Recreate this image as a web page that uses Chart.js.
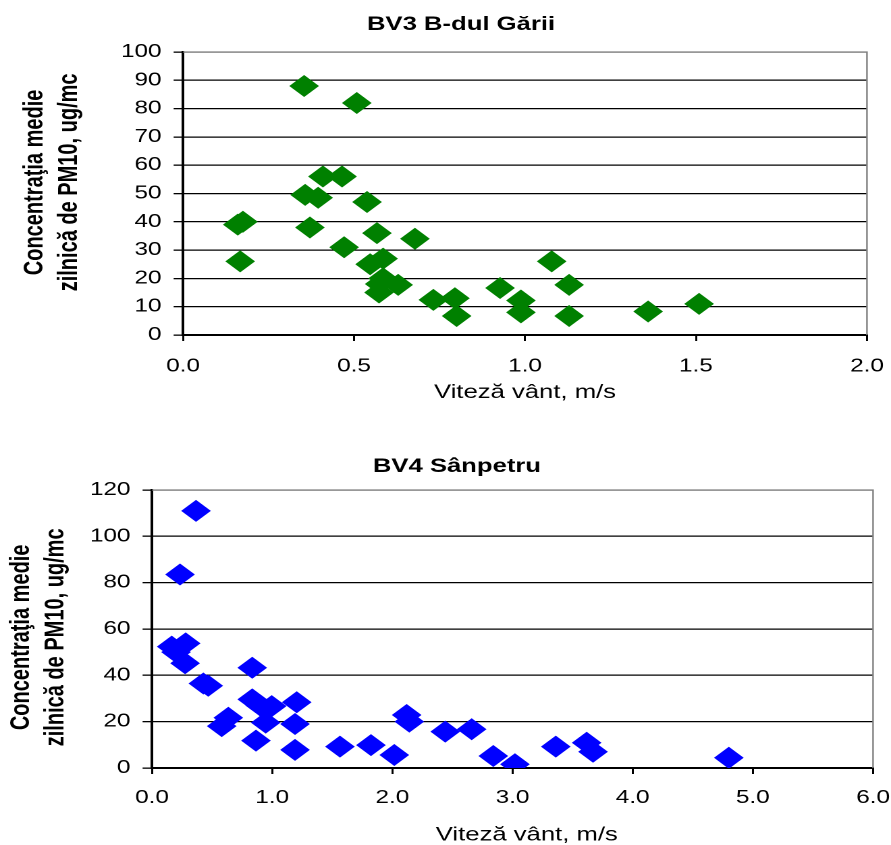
<!DOCTYPE html>
<html>
<head>
<meta charset="utf-8">
<script src="https://cdn.jsdelivr.net/npm/chart.js@4.4.1/dist/chart.umd.min.js"></script>
<style>
html, body { margin: 0; padding: 0; width: 891px; height: 845px; overflow: hidden; background: #fff; }
.wrap { position: absolute; left: 0; transform-origin: 0 0; transform: scaleX(1.35); }
#w1 { top: 0; width: 683px; height: 420px; }
#w2 { top: 420px; width: 677px; height: 440px; }
</style>
</head>
<body>
<div class="wrap" id="w1"><canvas id="bv3"></canvas></div>
<div class="wrap" id="w2"><canvas id="bv4"></canvas></div>
<script>
// BV3 B-dul Garii: wind speed (m/s) vs daily PM10 (ug/mc)
const bv3Wind = [0.354, 0.508, 0.409, 0.465, 0.357, 0.395, 0.538, 0.16, 0.175, 0.371, 0.567, 0.678, 0.471, 0.167,
  0.585, 0.547, 0.585, 0.575, 0.629, 0.573, 0.732, 0.795, 0.80, 0.927, 0.988, 0.988, 1.078, 1.129, 1.129, 1.36, 1.509];
const bv3Pm10 = [88, 82, 56, 56, 49.5, 48.5, 47, 39, 40, 38, 36, 34, 31, 26,
  27, 25, 20, 18, 17.7, 15, 12.4, 13, 6.7, 16.6, 12.2, 8, 26, 17.7, 6.7, 8.3, 11];
const bv3XLabels = ['0.0', '0.5', '1.0', '1.5', '2.0'];
const bv3YLabels = ['0', '10', '20', '30', '40', '50', '60', '70', '80', '90', '100'];

// BV4 Sanpetru
const bv4Wind = [0.366, 0.233, 0.164, 0.2, 0.28, 0.275, 0.427, 0.468, 0.834, 0.834, 0.9, 0.996, 0.946, 0.58, 0.635,
  0.865, 1.204, 1.19, 1.19, 1.564, 1.822, 2.016, 2.119, 2.141, 2.44, 2.66, 2.84, 3.02, 3.36, 3.617, 3.67, 4.80];
const bv4Pm10 = [111, 83.5, 52.4, 50, 53.8, 45.2, 36.5, 35.5, 43.3, 29.6, 27, 26.7, 19.6, 18.1, 21.7,
  11.8, 28.4, 19, 7.8, 9.2, 9.9, 5.6, 22.9, 20, 15.7, 16.7, 5.2, 1.6, 9.2, 10.9, 7.0, 4.4];
const bv4XLabels = ['0.0', '1.0', '2.0', '3.0', '4.0', '5.0', '6.0'];
const bv4YLabels = ['0', '20', '40', '60', '80', '100', '120'];

const FONT = "'Liberation Sans', Arial, sans-serif";
const yTitle = ['Concentraţia medie', 'zilnică de PM10, ug/mc'];
const xTitle = 'Viteză vânt, m/s';

const frame = {
  id: 'frame',
  beforeDatasetsDraw(chart) {
    const {ctx, chartArea: a} = chart;
    ctx.save();
    ctx.strokeStyle = '#808080';
    ctx.lineWidth = 1.2;
    ctx.beginPath();
    ctx.moveTo(a.left, a.top);
    ctx.lineTo(a.right, a.top);
    ctx.lineTo(a.right, a.bottom);
    ctx.stroke();
    ctx.restore();
  }
};

function makeChart(id, o) {
  const pts = o.x.map((x, i) => ({x: x, y: o.y[i]}));
  return new Chart(id, {
    type: 'scatter',
    data: {
      datasets: [{
        data: pts,
        pointStyle: 'rectRot',
        pointRadius: 11,
        pointHoverRadius: 11,
        pointBackgroundColor: o.color,
        pointBorderColor: o.color,
        pointBorderWidth: 0,
      }],
    },
    options: {
      responsive: true,
      maintainAspectRatio: false,
      devicePixelRatio: 2,
      animation: false,
      events: [],
      layout: { padding: 0 },
      plugins: {
        legend: { display: false },
        tooltip: { enabled: false },
        title: {
          display: true,
          text: o.title,
          color: '#000',
          font: { family: FONT, size: 19, weight: 'bold', lineHeight: 1.2 },
          padding: { top: o.titleTop, bottom: o.titleBottom },
        },
      },
      scales: {
        x: {
          type: 'linear',
          min: 0,
          max: o.xMax,
          afterFit: s => { s.height = o.xHeight; s.paddingRight = o.padRight; },
          afterBuildTicks: s => { s.ticks = o.xLabels.map((t, i) => ({value: i * o.xStep})); },
          ticks: {
            callback: (v, i) => o.xLabels[i],
            color: '#000',
            font: { family: FONT, size: 18 },
            padding: o.xTickPad,
            maxRotation: 0,
            autoSkip: false,
          },
          grid: { drawOnChartArea: false, drawTicks: true, tickLength: 6, color: '#000', lineWidth: 1.5 },
          border: { display: true, color: '#000', width: 2 },
          title: {
            display: true,
            text: o.xTitleText,
            color: '#000',
            font: { family: FONT, size: 19, lineHeight: 1.2 },
            padding: { top: 0, bottom: o.xTitlePad },
          },
        },
        y: {
          type: 'linear',
          min: 0,
          max: o.yMax,
          afterFit: s => { s.width = o.yWidth; },
          afterBuildTicks: s => { s.ticks = o.yLabels.map((t, i) => ({value: i * o.yStep})); },
          ticks: {
            callback: (v, i) => o.yLabels[i],
            color: '#000',
            font: { family: FONT, size: 18 },
            padding: 9,
          },
          grid: {
            color: c => (c.tick && c.tick.value === o.yMax) ? '#808080' : '#000',
            tickColor: '#000',
            lineWidth: 1.3,
            tickLength: 7,
          },
          border: { display: true, color: '#000', width: 2 },
          title: {
            display: true,
            text: o.yTitleText,
            color: '#000',
            font: { family: FONT, size: 20, weight: 'bold', lineHeight: 1.28 },
            padding: { top: o.yTitlePad, bottom: 0 },
          },
        },
      },
    },
    plugins: [frame],
  });
}

// the source titles sit a little off the plot centre; spaces nudge them the same way
makeChart('bv3', {
  title: 'BV3 B-dul Gării', x: bv3Wind, y: bv3Pm10, color: '#008000',
  xMax: 2, xStep: 0.5, xLabels: bv3XLabels, yMax: 100, yStep: 10, yLabels: bv3YLabels,
  titleTop: 13.6, titleBottom: 15.6, xHeight: 85, padRight: 40.8, xTickPad: 14.9, xTitlePad: 15.6,
  yWidth: 135.6, yTitlePad: 13,
  xTitleText: xTitle,
  yTitleText: yTitle.map(t => '    ' + t),
});

makeChart('bv4', {
  title: 'BV4 Sânpetru', x: bv4Wind, y: bv4Pm10, color: '#0000FF',
  xMax: 6, xStep: 1, xLabels: bv4XLabels, yMax: 120, yStep: 20, yLabels: bv4YLabels,
  titleTop: 35.6, titleBottom: 11.6, xHeight: 92, padRight: 30.3, xTickPad: 13.2, xTitlePad: 13.1,
  yWidth: 112.6, yTitlePad: 3.2,
  xTitleText: '    ' + xTitle,
  yTitleText: yTitle.map(t => t + '   '),
});
</script>
</body>
</html>
